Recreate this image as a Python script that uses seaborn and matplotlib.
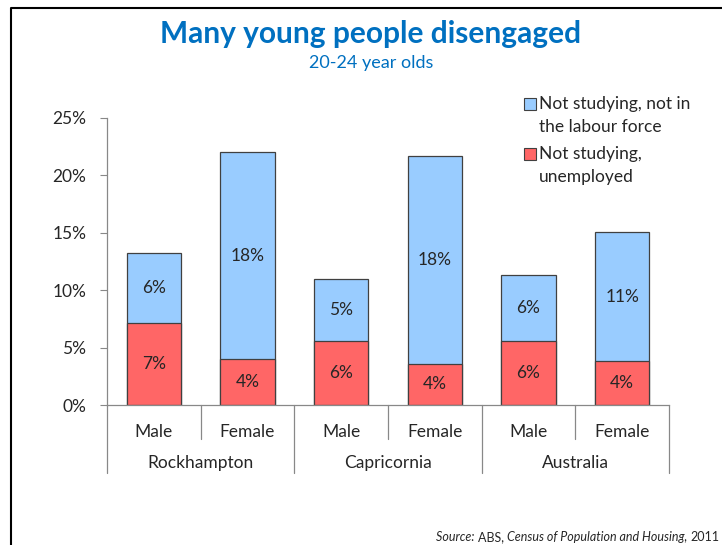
import pandas as pd
import matplotlib.pyplot as plt
import matplotlib.transforms as mtransforms
from matplotlib.patches import Rectangle
from matplotlib.lines import Line2D
import seaborn as sns

# data (% of 20-24 year olds)
places = ['Rockhampton', 'Rockhampton', 'Capricornia', 'Capricornia', 'Australia', 'Australia']
sexes = ['Male', 'Female', 'Male', 'Female', 'Male', 'Female']
unemployed = [7.1, 4.0, 5.6, 3.6, 5.6, 3.8]
not_in_labour_force = [6.1, 18.0, 5.4, 18.1, 5.7, 11.3]

series_names = ['Not studying, not in\nthe labour force', 'Not studying,\nunemployed']
blue = '#99CCFF'
red = '#FF6666'
edge = '#404040'
title_blue = '#0070C0'
fs = 12.5

df = pd.DataFrame({'place': places, 'sex': sexes,
                   'unemployed': unemployed, 'nilf': not_in_labour_force})
df['key'] = df['place'] + ' ' + df['sex']
df['total'] = df['unemployed'] + df['nilf']

sns.set_style('white')
plt.rcParams['font.family'] = ['Lato', 'DejaVu Sans']

fig = plt.figure(figsize=(7.22, 5.45), dpi=100)
ax = fig.add_axes([107 / 722, 1 - 405 / 545, 562 / 722, 287 / 545])

sns.barplot(data=df, x='key', y='total', color=blue, saturation=1, width=0.58,
            edgecolor=edge, linewidth=0.9, errorbar=None, ax=ax)
sns.barplot(data=df, x='key', y='unemployed', color=red, saturation=1, width=0.58,
            edgecolor=edge, linewidth=0.9, errorbar=None, ax=ax)

# segment labels
for i, row in df.iterrows():
    ax.text(i, row['unemployed'] / 2, f"{row['unemployed']:.0f}%", ha='center', va='center', fontsize=fs)
    ax.text(i, row['unemployed'] + row['nilf'] / 2, f"{row['nilf']:.0f}%", ha='center', va='center', fontsize=fs)

ax.set_xlim(-0.5, 5.5)
ax.set_ylim(0, 25)
ax.set_yticks([0, 5, 10, 15, 20, 25])
ax.set_yticklabels([f'{v}%' for v in [0, 5, 10, 15, 20, 25]], fontsize=fs)
ax.set_xticks(range(6))
ax.set_xticklabels(sexes, fontsize=fs)
ax.set_xlabel('')
ax.set_ylabel('')
ax.tick_params(axis='x', length=0, pad=14)
ax.tick_params(axis='y', length=5, color='#888888', left=True, pad=10)
for side in ['top', 'right']:
    ax.spines[side].set_visible(False)
for side in ['left', 'bottom']:
    ax.spines[side].set_color('#888888')
    ax.spines[side].set_linewidth(0.9)

# multi-level category axis
trans = mtransforms.blended_transform_factory(ax.transData, ax.transAxes)
for b in [-0.5, 0.5, 1.5, 2.5, 3.5, 4.5, 5.5]:
    depth = -0.237 if b in (-0.5, 1.5, 3.5, 5.5) else -0.118
    ax.plot([b, b], [0, depth], transform=trans, color='#888888', lw=0.9, clip_on=False)
for j, place in enumerate(['Rockhampton', 'Capricornia', 'Australia']):
    ax.text(2 * j + 0.5, -58 / 287, place, transform=trans, ha='center', va='center', fontsize=fs)

# legend
for k, (name, col) in enumerate(zip(series_names, [blue, red])):
    y0 = 1 - (98 + 50 * k) / 545
    fig.add_artist(Rectangle((524 / 722, y0 - 12 / 545), 12 / 722, 12 / 545,
                             facecolor=col, edgecolor=edge, lw=0.8, transform=fig.transFigure))
    fig.text(539 / 722, y0 + 2 / 545, name, ha='left', va='top', fontsize=fs, linespacing=1.55)

# titles
fig.text(371 / 722, 1 - 34 / 545, 'Many young people disengaged', ha='center', va='center',
         fontsize=21.5, fontweight='bold', color=title_blue)
fig.text(371 / 722, 1 - 63 / 545, '20-24 year olds', ha='center', va='center',
         fontsize=13, color=title_blue)

# source note, built right to left
t = fig.text(719 / 722, 1 - 543 / 545, '2011', ha='right', va='bottom', fontsize=9)
for piece, style in [('Census of Population and Housing, ', 'italic'), ('ABS, ', 'normal'), ('Source: ', 'italic')]:
    t = ax.annotate(piece, xy=(0, 0), xycoords=t, ha='right', va='bottom',
                    fontsize=9, style=style, annotation_clip=False)

# slide frame
fig.add_artist(Line2D([11 / 722, 11 / 722, 1], [0, 1 - 8 / 545, 1 - 8 / 545],
                      color='black', lw=1.5, transform=fig.transFigure))

fig.savefig('out.png', dpi=100)
